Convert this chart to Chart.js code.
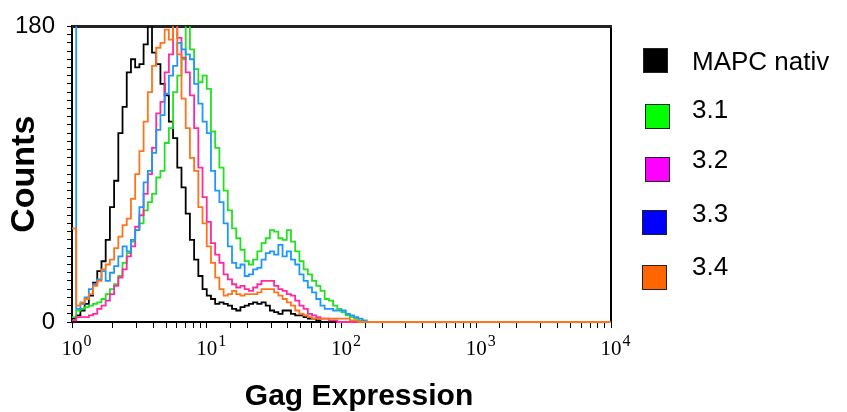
<!DOCTYPE html>
<html>
<head>
<meta charset="utf-8">
<script src="https://cdn.jsdelivr.net/npm/chart.js@4"></script>
<style>
  body { margin: 0; background: #fff; overflow: hidden; }
  #wrap { position: relative; width: 847px; height: 412px; }
  #legend { position: absolute; left: 0; top: 0; font-family: "Liberation Sans", Arial, sans-serif; font-size: 26px; line-height: 26px; color: #000; }
  .box { position: absolute; width: 23px; height: 23px; border: 1.5px solid #222; }
  .lbl { position: absolute; white-space: nowrap; }
</style>
</head>
<body>
<div id="wrap">
  <canvas id="chart" width="847" height="412"></canvas>
  <div id="legend"></div>
</div>
<script>
const BINS_PER_DECADE = 32;
const X_DECADES = [0, 1, 2, 3, 4];
const Y_TICK_LABELS = [0, 180];
const X_TITLE = 'Gag Expression';
const Y_TITLE = 'Counts';

const SERIES_NAMES = ['MAPC nativ', '3.1', '3.2', '3.3', '3.4'];
const LINE_COLORS = ['#000000', '#22e022', '#ff2aa2', '#1f97ff', '#ff7418'];
const LEGEND_COLORS = ['#000000', '#00ff00', '#ff00ff', '#0000ff', '#ff6600'];

// counts per bin, bin i starts at 10^(i/32)
const mapcNativ = [2, 4, 7, 11, 16, 24, 31, 37, 50, 70, 86, 115, 131, 152, 160, 155, 157, 169, 182, 164,
  157, 145, 138, 122, 112, 94, 82, 66, 50, 38, 28, 20, 16, 14, 11, 12, 11, 10, 8, 7,
  9, 10, 11, 12, 11, 12, 10, 7, 6, 5, 7, 7, 5, 4, 4, 3, 2, 2, 1, 0];
const s31 = [3, 7, 8, 9, 10, 11, 12, 14, 17, 20, 23, 28, 36, 42, 49, 56, 60, 68, 73, 78,
  88, 92, 109, 118, 140, 150, 160, 182, 166, 154, 146, 150, 142, 116, 106, 94, 80, 68, 57, 51,
  44, 37, 35, 38, 43, 48, 51, 56, 55, 51, 50, 56, 49, 43, 37, 32, 29, 25, 22, 19,
  14, 13, 10, 8, 6, 4, 3, 2, 1, 0];
const s32 = [1, 3, 3, 3, 4, 5, 8, 10, 13, 17, 22, 27, 32, 40, 46, 58, 65, 78, 90, 106,
  127, 134, 152, 163, 182, 173, 161, 152, 138, 118, 94, 76, 61, 48, 41, 36, 29, 26, 23, 21,
  22, 20, 19, 21, 23, 25, 25, 25, 22, 20, 19, 17, 16, 13, 10, 8, 5, 4, 3, 2,
  2, 1, 1, 0];
const s33 = [200, 8, 11, 15, 20, 23, 26, 31, 25, 30, 34, 40, 46, 43, 50, 56, 70, 85, 92, 103,
  117, 126, 139, 150, 156, 170, 166, 163, 160, 145, 133, 122, 115, 92, 80, 73, 60, 46, 36, 33,
  35, 28, 29, 32, 33, 38, 42, 43, 41, 47, 40, 43, 38, 35, 29, 25, 21, 18, 14, 10,
  8, 8, 7, 7, 7, 5, 4, 3, 2, 1, 0];
const s34 = [57, 10, 12, 14, 17, 22, 25, 32, 35, 38, 45, 52, 59, 63, 75, 90, 104, 122, 140, 156,
  167, 170, 178, 172, 182, 163, 136, 118, 100, 92, 70, 60, 46, 36, 27, 20, 16, 17, 19, 17,
  16, 17, 17, 17, 18, 20, 20, 20, 18, 16, 14, 12, 10, 7, 5, 4, 3, 2, 2, 2,
  2, 2, 2, 2, 2, 2, 1, 1, 0];

const SERIES = [mapcNativ, s31, s32, s33, s34];

function toPoints(counts) {
  const pts = counts.map((c, i) => ({ x: 10 ** (i / BINS_PER_DECADE), y: c }));
  pts.push({ x: 10 ** X_DECADES[X_DECADES.length - 1], y: 0 });
  return pts;
}

const datasets = SERIES.map((counts, i) => ({
  label: SERIES_NAMES[i],
  data: toPoints(counts),
  borderColor: LINE_COLORS[i],
  borderWidth: 1.8,
  pointRadius: 0,
  stepped: true,
  fill: false,
  clip: { left: 2, top: 0, right: 2, bottom: 3 },
  order: SERIES.length - i
}));

// frame under the lines, serif decade labels and x title
const extras = {
  id: 'extras',
  beforeDatasetsDraw(chart) {
    const { ctx, chartArea: a } = chart;
    ctx.save();
    ctx.strokeStyle = '#000';
    ctx.lineWidth = 2;
    ctx.strokeRect(a.left, a.top, a.right - a.left, a.bottom - a.top);
    ctx.strokeStyle = '#222';
    ctx.lineWidth = 3;
    ctx.beginPath();
    ctx.moveTo(a.left, a.top);
    ctx.lineTo(a.right + 1, a.top);
    ctx.stroke();
    ctx.restore();
  },
  afterDraw(chart) {
    const { ctx, scales: { x } } = chart;
    ctx.save();
    ctx.fillStyle = '#000';
    ctx.textBaseline = 'alphabetic';
    X_DECADES.forEach(d => {
      const px = x.getPixelForValue(10 ** d);
      ctx.font = '21px "Liberation Serif", "Times New Roman", serif';
      ctx.textAlign = 'center';
      ctx.fillText('10', px, 355);
      const w = ctx.measureText('10').width;
      ctx.font = '16px "Liberation Serif", "Times New Roman", serif';
      ctx.textAlign = 'left';
      ctx.fillText(String(d), px + w / 2 + 1, 346);
    });

    ctx.font = 'bold 30px "Liberation Sans", Arial, sans-serif';
    ctx.textAlign = 'center';
    ctx.fillText(X_TITLE, 359, 405);
    ctx.restore();
  }
};

new Chart(document.getElementById('chart'), {
  type: 'line',
  data: { datasets },
  plugins: [extras],
  options: {
    responsive: false,
    animation: false,
    layout: { padding: { left: 0, top: 21, right: 236, bottom: 0 } },
    plugins: { legend: { display: false }, tooltip: { enabled: false } },
    scales: {
      x: {
        type: 'logarithmic',
        min: 10 ** X_DECADES[0],
        max: 10 ** X_DECADES[X_DECADES.length - 1],
        grid: { drawOnChartArea: false, drawTicks: true, tickLength: 6, color: '#000', lineWidth: 1 },
        border: { color: '#000', width: 2 },
        ticks: { autoSkip: false, padding: 0, callback: () => '' },
        afterFit: scale => { scale.height = 90; }
      },
      y: {
        min: 0,
        max: 180,
        grid: { drawOnChartArea: false, drawTicks: true, tickLength: 5, color: '#000', lineWidth: 1 },
        border: { color: '#000', width: 2 },
        ticks: {
          stepSize: 5,
          autoSkip: false,
          padding: 12,
          color: '#000',
          font: { family: '"Liberation Sans", Arial, sans-serif', size: 24 },
          callback: v => (Y_TICK_LABELS.includes(v) ? v : '')
        },
        title: {
          display: true,
          text: Y_TITLE,
          color: '#000',
          padding: { top: 4, bottom: 0 },
          font: { family: '"Liberation Sans", Arial, sans-serif', size: 34, weight: 'bold' }
        },
        afterFit: scale => { scale.width = 72; }
      }
    }
  }
});

// legend on the right, boxes sit a little lower than their labels
const legend = document.getElementById('legend');
const boxTops = [48, 104, 157, 210, 265];
const boxLefts = [643, 645, 645, 642, 642];
const labelTops = [48, 96, 146, 200, 253];
SERIES_NAMES.forEach((name, i) => {
  const box = document.createElement('div');
  box.className = 'box';
  box.style.left = boxLefts[i] + 'px';
  box.style.top = boxTops[i] + 'px';
  box.style.background = LEGEND_COLORS[i];
  legend.appendChild(box);
  const lbl = document.createElement('div');
  lbl.className = 'lbl';
  lbl.style.left = '692px';
  lbl.style.top = labelTops[i] + 'px';
  lbl.textContent = name;
  legend.appendChild(lbl);
});
</script>
</body>
</html>
